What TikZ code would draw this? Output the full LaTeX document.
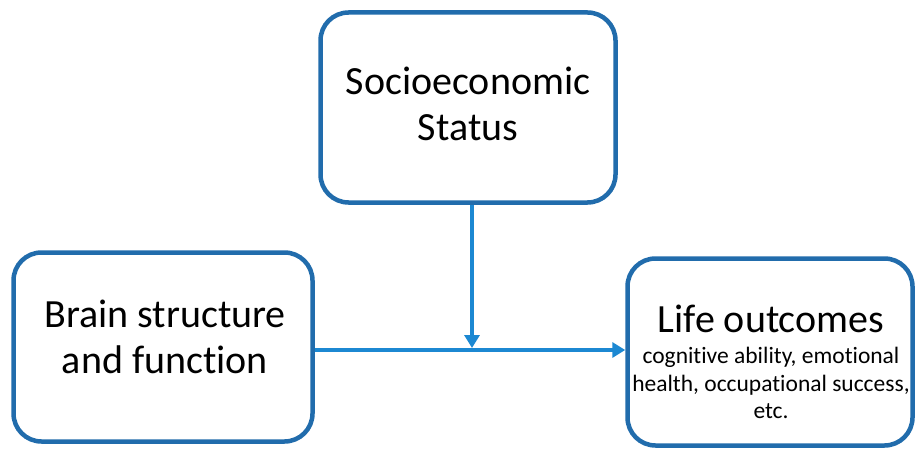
\documentclass[tikz,border=0pt]{standalone}
\usepackage{fontspec}
\setmainfont{Carlito}[Ligatures={NoCommon}]
\usetikzlibrary{arrows.meta}
\definecolor{boxblue}{RGB}{33,108,172}
\definecolor{arrowblue}{RGB}{28,136,210}
\begin{document}
\begin{tikzpicture}[x=1pt,y=-1pt,
  box/.style={draw=boxblue, line width=4.5pt, rounded corners=28pt, fill=white,
    inner sep=0pt},
  txt/.style={align=center, inner sep=0pt, font=\fontsize{40}{46.5}\selectfont},
  small/.style={align=center, inner sep=0pt, font=\fontsize{23.5}{27.5}\selectfont},
  link/.style={draw=arrowblue, line width=3.5pt,
    -{Triangle[width=15pt,length=13pt]}}]
\useasboundingbox (0,0) rectangle (917,449);
% the three boxes
\node[box, minimum width=295pt, minimum height=190pt] (ses) at (468,107.5) {};
\node[box, minimum width=299pt, minimum height=189pt] (brain) at (163,347) {};
\node[box, minimum width=285pt, minimum height=187pt] (life) at (770,352) {};
% their texts
\node[txt] (sestext) at (468,104) {Socioeconomic\\Status};
\node[txt] (braintext) at (165,337) {Brain structure\\and function};
\node[small] (lifetext) at (771,362)
  {{\fontsize{40}{40}\selectfont Life outcomes}\\[3.5pt]cognitive ability, emotional\\health, occupational success,\\etc.};
% connectors
\coordinate (meet) at (472,348);
\draw[link] (ses.south -| meet) -- (meet);
\draw[link] (brain.east |- 0,350) -- (life.west |- 0,350);
\end{tikzpicture}
\end{document}
